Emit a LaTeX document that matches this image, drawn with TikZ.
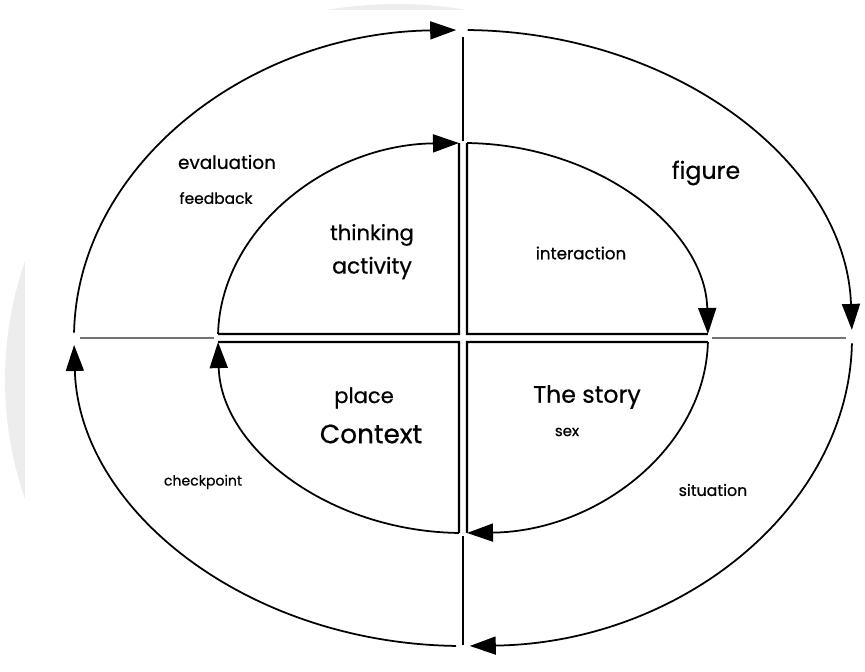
\documentclass[tikz,border=0pt]{standalone}
\usepackage{fontspec}
\setmainfont{Poppins}[FakeBold=0.6]
\usetikzlibrary{arrows.meta}

\begin{document}
\begin{tikzpicture}[
            x=0.2mm, y=0.2mm,
            ring/.style={line width=1pt, -{Triangle[length=5.2mm, width=3.6mm]}},
            edge/.style={line width=1.3pt},
            axis/.style={line width=0.8pt},
            lbl/.style={inner sep=0pt, font=#1}
        ]
        \clip (-463,-334) rectangle (402,338);
        \fill[black!7] (-66,-42) ellipse[x radius=392, y radius=376];
        \fill[white] (-438,-334) rectangle (402,328);

        % outer ring, clockwise
        \coordinate (oNW) at (179:389 and 308);
        \coordinate (oNE) at (89.3:389 and 308);
        \coordinate (oSE) at (-1:389 and 308);
        \coordinate (oSW) at (-91:389 and 308);
        \draw[ring] (oNW) arc[start angle=179, end angle=91, x radius=389, y radius=308];
        \draw[ring] (oNE) arc[start angle=89.3, end angle=1.5, x radius=389, y radius=308];
        \draw[ring] (oSE) arc[start angle=-1, end angle=-89, x radius=389, y radius=308];
        \draw[ring] (oSW) arc[start angle=-91, end angle=-178.7, x radius=389, y radius=308];

        % inner quadrants
        \coordinate (ulA) at (178.8:245 and 195);
        \coordinate (ulB) at (90.94:245 and 195);
        \coordinate (ulC) at (-4,4);
        \coordinate (urA) at (89.06:245 and 195);
        \coordinate (urB) at (1.18:245 and 195);
        \coordinate (urC) at (4,4);
        \coordinate (lrA) at (-1.18:245 and 195);
        \coordinate (lrB) at (-89.06:245 and 195);
        \coordinate (lrC) at (4,-4);
        \coordinate (llA) at (-90.94:245 and 195);
        \coordinate (llB) at (-178.8:245 and 195);
        \coordinate (llC) at (-4,-4);

        \draw[edge] (ulA) -- (ulC) -- (ulB);
        \draw[edge] (urA) -- (urC) -- (urB);
        \draw[edge] (lrA) -- (lrC) -- (lrB);
        \draw[edge] (llA) -- (llC) -- (llB);
        \draw[ring] (ulA) arc[start angle=178.8, end angle=90.94, x radius=245, y radius=195];
        \draw[ring] (urA) arc[start angle=89.06, end angle=1.18, x radius=245, y radius=195];
        \draw[ring] (lrA) arc[start angle=-1.18, end angle=-89.06, x radius=245, y radius=195];
        \draw[ring] (llA) arc[start angle=-90.94, end angle=-178.8, x radius=245, y radius=195];

        % spokes between the rings
        \coordinate (oN) at (0,301);
        \coordinate (iN) at (0,197);
        \coordinate (iS) at (0,-198);
        \coordinate (oS) at (0,-307);
        \coordinate (oW) at (-383,0);
        \coordinate (iW) at (-249,0);
        \coordinate (iE) at (249,0);
        \coordinate (oE) at (383,0);
        \draw[axis] (oN) -- (iN);
        \draw[axis] (iS) -- (oS);
        \draw[axis, black!55] (oW) -- (iW);
        \draw[axis, black!55] (iE) -- (oE);

        \node[lbl=\fontsize{10.5pt}{12pt}\selectfont] (eval) at (-236,176) {evaluation};
        \node[lbl=\fontsize{8.8pt}{10pt}\selectfont] (feedb) at (-247,140) {feedback};
        \node[lbl=\fontsize{12pt}{14pt}\selectfont] (think) at (-91,103) {thinking};
        \node[lbl=\fontsize{12.5pt}{14pt}\selectfont] (activ) at (-91,70) {activity};
        \node[lbl=\fontsize{13.5pt}{15pt}\selectfont] (fig) at (243,165) {figure};
        \node[lbl=\fontsize{9.5pt}{11pt}\selectfont] (inter) at (118,85) {interaction};
        \node[lbl=\fontsize{12pt}{14pt}\selectfont] (place) at (-99,-60) {place};
        \node[lbl=\fontsize{15pt}{17pt}\selectfont] (ctx) at (-92,-96) {Context};
        \node[lbl=\fontsize{8pt}{10pt}\selectfont] (check) at (-260,-144) {checkpoint};
        \node[lbl=\fontsize{13.5pt}{15pt}\selectfont] (story) at (124,-59) {The story};
        \node[lbl=\fontsize{8.5pt}{10pt}\selectfont] (sex) at (104,-94) {sex};
        \node[lbl=\fontsize{9pt}{10pt}\selectfont] (situ) at (250,-152) {situation};
    \end{tikzpicture}
\end{document}
